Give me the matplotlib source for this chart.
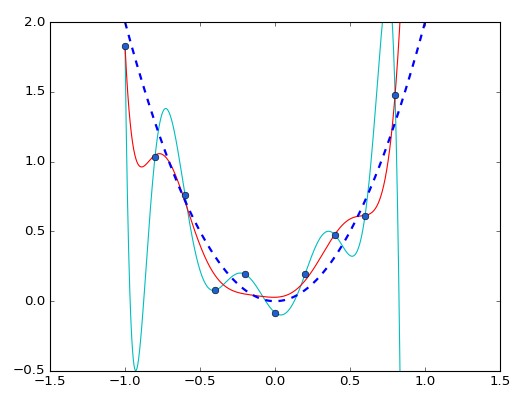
import numpy as np
import matplotlib
matplotlib.use('Agg')
from matplotlib import pyplot as plt

plt.style.use('classic')

# sample points
x_pts = np.array([-1.0, -0.8, -0.6, -0.4, -0.2, 0.0, 0.2, 0.4, 0.6, 0.8])
y_pts = np.array([1.83, 1.034, 0.76, 0.078, 0.193, -0.082, 0.193, 0.474, 0.613, 1.477])

# true model y = k * x^2
true_coef = 2.0
degree = 9
ridge_alpha = 2e-6

xs = np.linspace(-1, 1, 1000)
X = np.vander(x_pts, degree + 1, increasing=True)
Xs = np.vander(xs, degree + 1, increasing=True)

# regularised fit (red)
P = ridge_alpha * np.eye(degree + 1)
P[0, 0] = 0
w_ridge = np.linalg.solve(X.T @ X + P, X.T @ y_pts)

# plain degree-9 fit through all points (cyan)
w_full = np.linalg.solve(X, y_pts)

fig = plt.figure(figsize=(6.65, 5), dpi=80)
ax = fig.add_axes([0.094, 0.0725, 0.846, 0.8725])

ax.plot(xs, Xs @ w_full, 'c-')
ax.plot(xs, Xs @ w_ridge, 'r-')
ax.plot(xs, true_coef * xs ** 2, 'b--', lw=2)
ax.plot(x_pts, y_pts, 'o', color='#1f5fd0', mec='k', ms=6)

ax.set_xlim(-1.5, 1.5)
ax.set_ylim(-0.5, 2.0)

fig.savefig('out.png', dpi=80)
